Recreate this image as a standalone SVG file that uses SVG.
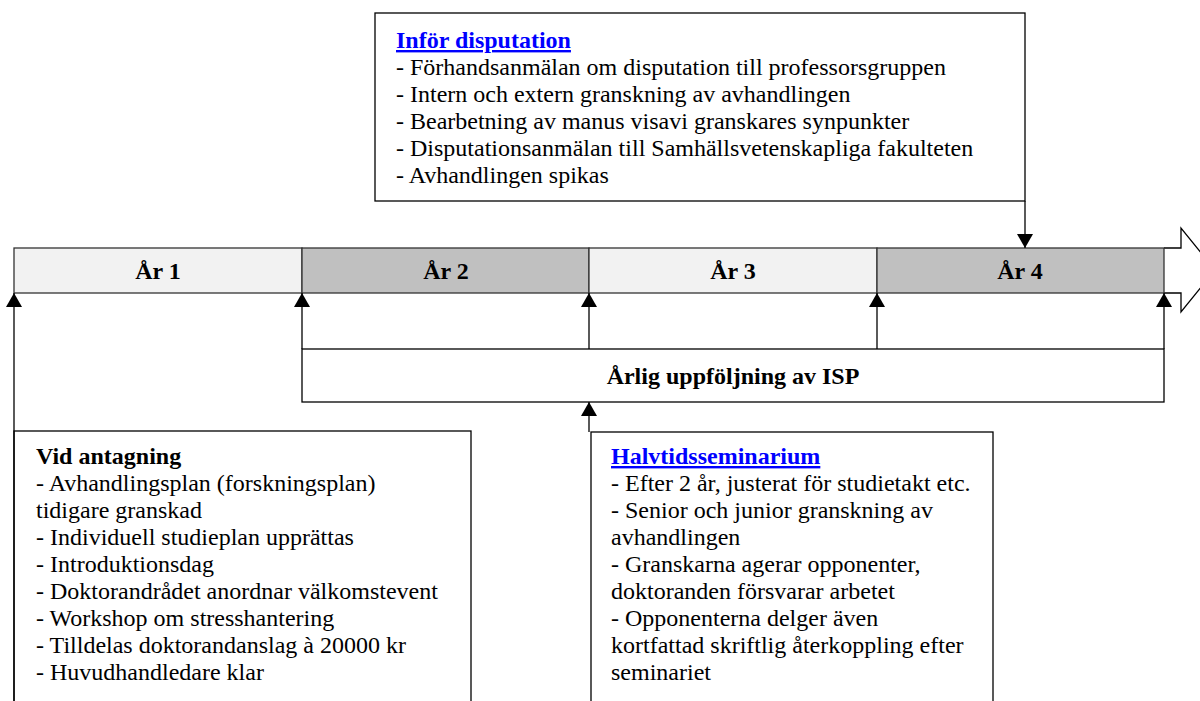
<svg xmlns="http://www.w3.org/2000/svg" width="1200" height="701" viewBox="0 0 1200 701">
<style>
text{font-family:"Liberation Serif","Times New Roman",serif;font-size:24px;fill:#000}
.b{font-weight:bold}
.h{font-weight:bold;fill:#0000ff;text-decoration:underline}
.box{fill:#fff;stroke:#000;stroke-width:1.3}
.cell{stroke:#333;stroke-width:1.3}
.ln{stroke:#000;stroke-width:1.3;fill:none}
</style>
<defs>
<marker id="ah" viewBox="0 0 14 16" refX="14" refY="8" markerWidth="14" markerHeight="16" markerUnits="userSpaceOnUse" orient="auto">
<path d="M0,0 L14,8 L0,16 Z" fill="#000"/>
</marker>
</defs>
<rect width="1200" height="701" fill="#fff"/>

<g id="timeline">
<path d="M1164,248 L1181,248 L1181,228 L1215,270 L1181,312 L1181,293 L1164,293" fill="#fff" stroke="#000" stroke-width="1.3"/>
<rect class="cell" x="14" y="248" width="288" height="45" fill="#f2f2f2"/>
<rect class="cell" x="302" y="248" width="287" height="45" fill="#c0c0c0"/>
<rect class="cell" x="589" y="248" width="288" height="45" fill="#f2f2f2"/>
<rect class="cell" x="877" y="248" width="287" height="45" fill="#c0c0c0"/>
<text class="b" x="158" y="279" text-anchor="middle">År 1</text>
<text class="b" x="446" y="279" text-anchor="middle">År 2</text>
<text class="b" x="733" y="279" text-anchor="middle">År 3</text>
<text class="b" x="1020" y="279" text-anchor="middle">År 4</text>
</g>

<g id="isp">
<rect class="box" x="302" y="349" width="862" height="53"/>
<text class="b" x="733" y="384" text-anchor="middle">Årlig uppföljning av ISP</text>
</g>

<g id="infor">
<rect class="box" x="375" y="13" width="650" height="188"/>
<text class="h" x="396" y="48">Inför disputation</text>
<text x="396" y="75">- Förhandsanmälan om disputation till professorsgruppen</text>
<text x="396" y="102">- Intern och extern granskning av avhandlingen</text>
<text x="396" y="129">- Bearbetning av manus visavi granskares synpunkter</text>
<text x="396" y="156">- Disputationsanmälan till Samhällsvetenskapliga fakulteten</text>
<text x="396" y="183">- Avhandlingen spikas</text>
</g>

<g id="antagning">
<rect class="box" x="14" y="431" width="457" height="280"/>
<text class="b" x="36" y="464">Vid antagning</text>
<text x="36" y="491">- Avhandlingsplan (forskningsplan)</text>
<text x="36" y="518">tidigare granskad</text>
<text x="36" y="545">- Individuell studieplan upprättas</text>
<text x="36" y="572">- Introduktionsdag</text>
<text x="36" y="599">- Doktorandrådet anordnar välkomstevent</text>
<text x="36" y="626">- Workshop om stresshantering</text>
<text x="36" y="653">- Tilldelas doktorandanslag à 20000 kr</text>
<text x="36" y="680">- Huvudhandledare klar</text>
</g>

<g id="halvtid">
<rect class="box" x="591" y="432" width="402" height="280"/>
<text class="h" x="611" y="464">Halvtidsseminarium</text>
<text x="611" y="491">- Efter 2 år, justerat för studietakt etc.</text>
<text x="611" y="518">- Senior och junior granskning av</text>
<text x="611" y="545">avhandlingen</text>
<text x="611" y="572">- Granskarna agerar opponenter,</text>
<text x="611" y="599">doktoranden försvarar arbetet</text>
<text x="611" y="626">- Opponenterna delger även</text>
<text x="611" y="653">kortfattad skriftlig återkoppling efter</text>
<text x="611" y="680">seminariet</text>
</g>

<g id="connectors">
<line class="ln" x1="14" y1="701" x2="14" y2="293" marker-end="url(#ah)"/>
<line class="ln" x1="302" y1="349" x2="302" y2="293" marker-end="url(#ah)"/>
<line class="ln" x1="589" y1="349" x2="589" y2="293" marker-end="url(#ah)"/>
<line class="ln" x1="877" y1="349" x2="877" y2="293" marker-end="url(#ah)"/>
<line class="ln" x1="1164" y1="349" x2="1164" y2="293" marker-end="url(#ah)"/>
<line class="ln" x1="589" y1="432" x2="589" y2="402" marker-end="url(#ah)"/>
<line class="ln" x1="1025" y1="201" x2="1025" y2="248" marker-end="url(#ah)"/>
</g>
</svg>
